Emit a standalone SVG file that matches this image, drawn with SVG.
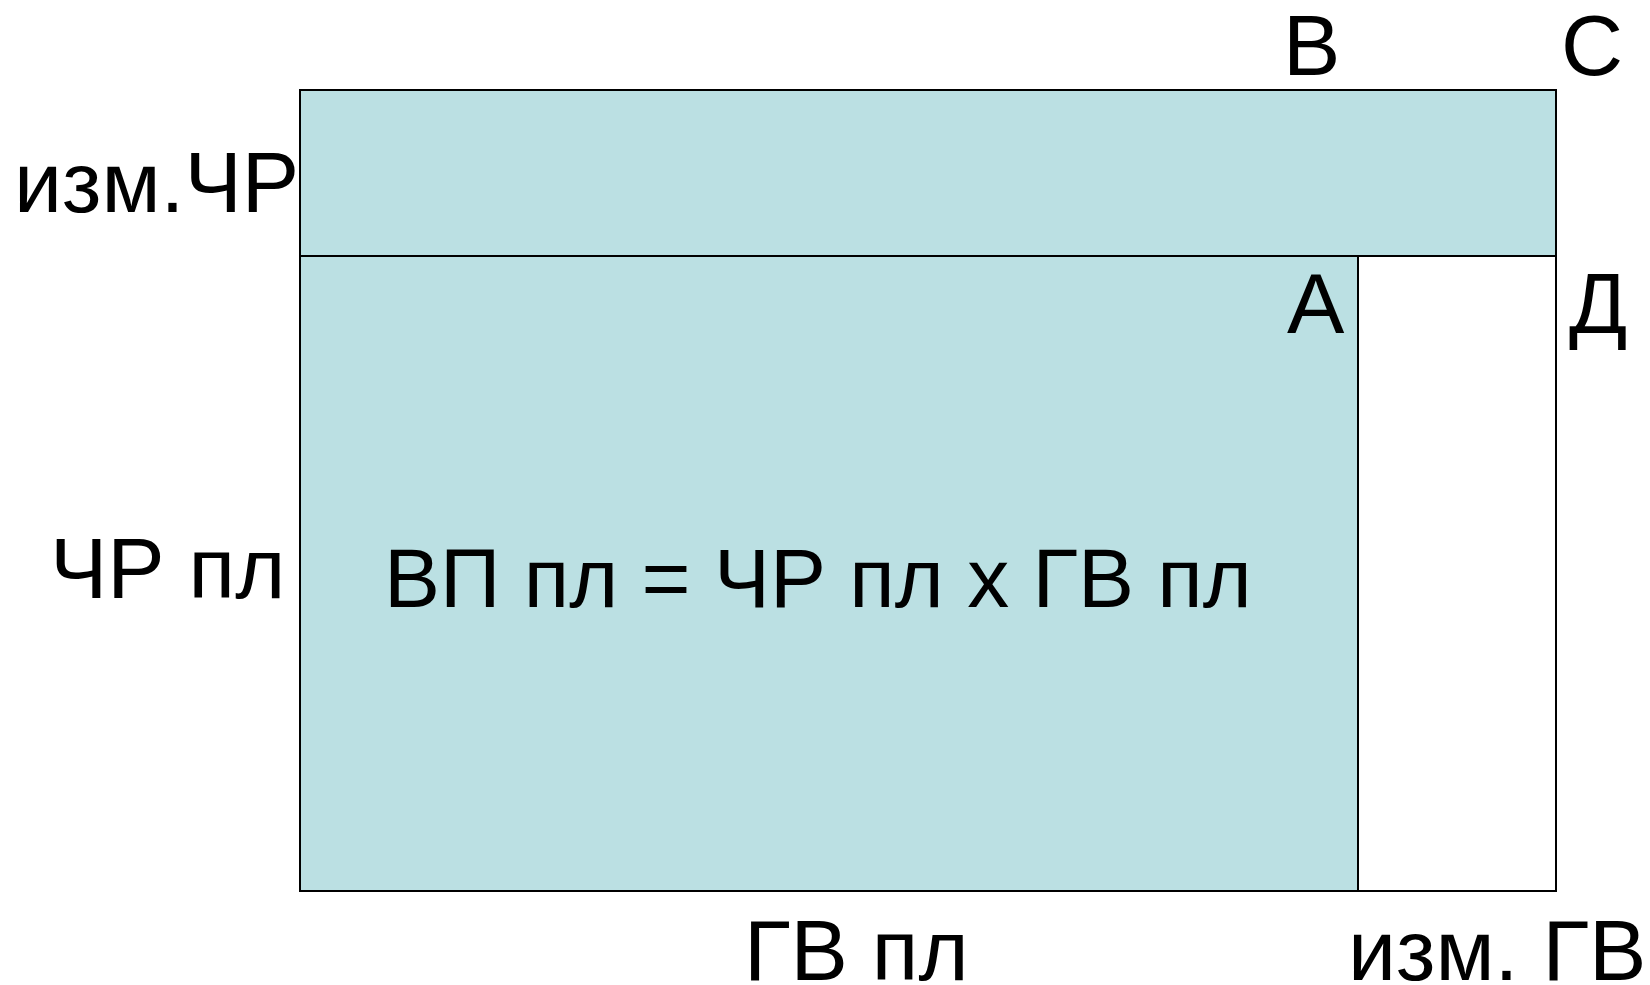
<svg xmlns="http://www.w3.org/2000/svg" width="1650" height="985" viewBox="0 0 1650 985">
<style>
.fill{fill:#BBE0E3;stroke:#000;stroke-width:2}
.empty{fill:#fff;stroke:#000;stroke-width:2}
.t{font-family:"Liberation Sans",Arial,sans-serif;font-size:86px;fill:#000}
.c{font-size:84px}
</style>
<rect width="1650" height="985" fill="#fff"/>
<g id="top-band"><rect class="fill" x="300" y="90" width="1256" height="166"/></g>
<g id="main-area"><rect class="fill" x="300" y="256" width="1058" height="635"/></g>
<g id="right-area"><rect class="empty" x="1358" y="256" width="198" height="635"/></g>
<g id="labels">
<text class="t" x="1283" y="75">В</text>
<text class="t" x="1561" y="75">С</text>
<text class="t" x="1287" y="333">А</text>
<text class="t" x="1569" y="333">Д</text>
<text class="t" x="14" y="212">изм.ЧР</text>
<text class="t" x="50" y="598">ЧР пл</text>
<text class="t c" x="384" y="607">ВП пл = ЧР пл х ГВ пл</text>
<text class="t" x="744" y="980">ГВ пл</text>
<text class="t" x="1348" y="980">изм. ГВ</text>
</g>
<g id="connectors"></g>
</svg>
